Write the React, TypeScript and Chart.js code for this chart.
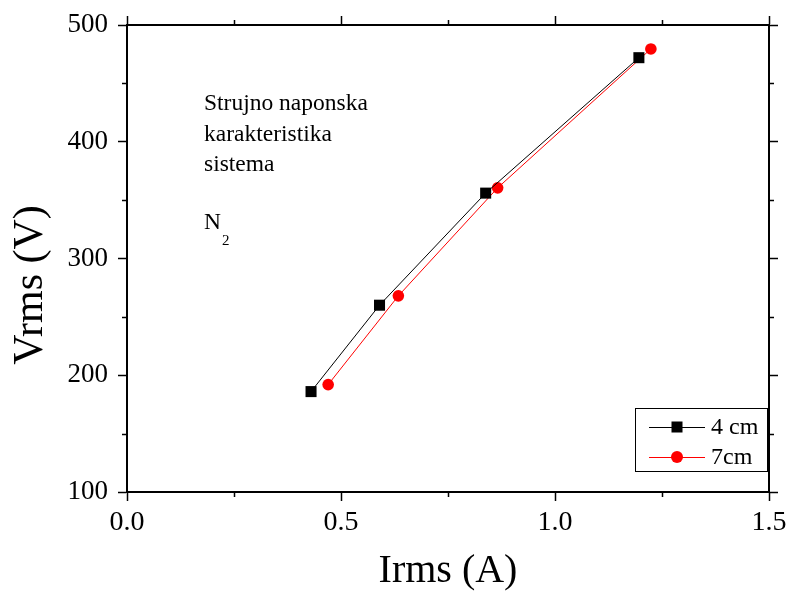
import React, { useEffect, useRef } from 'react';
import { Chart, registerables } from 'chart.js';

Chart.register(...registerables);

// ---- data ----
const xTickValues = [0, 0.5, 1.0, 1.5];
const yTickValues = [100, 200, 300, 400, 500];
const xMinorTicks = [0.25, 0.75, 1.25];
const yMinorTicks = [150, 250, 350, 450];

const current4cm = [0.43, 0.59, 0.838, 1.196];
const voltage4cm = [186, 260, 356, 472];
const current7cm = [0.47, 0.634, 0.866, 1.224];
const voltage7cm = [192, 268, 360.5, 479.5];

const seriesLabels = ['4 cm', '7cm'];
const noteLines = ['Strujno naponska', 'karakteristika', 'sistema'];
const gasLabel = 'N';
const gasSub = '2';
const xTitle = 'Irms (A)';
const yTitle = 'Vrms (V)';

const FONT = "'Liberation Serif', 'Times New Roman', serif";

const minorTicksPlugin = {
  id: 'minorTicks',
  afterDraw(chart: any) {
    const { ctx, chartArea } = chart;
    const xs = chart.scales.x;
    const ys = chart.scales.y;
    const len = 5;
    ctx.save();
    ctx.strokeStyle = '#000';
    ctx.lineWidth = 1.5;
    ctx.beginPath();
    xMinorTicks.forEach((v) => {
      const px = Math.round(xs.getPixelForValue(v)) + 0.5;
      ctx.moveTo(px, chartArea.bottom);
      ctx.lineTo(px, chartArea.bottom + len);
      ctx.moveTo(px, chartArea.top);
      ctx.lineTo(px, chartArea.top - len);
    });
    yMinorTicks.forEach((v) => {
      const py = Math.round(ys.getPixelForValue(v)) + 0.5;
      ctx.moveTo(chartArea.left, py);
      ctx.lineTo(chartArea.left - len, py);
      ctx.moveTo(chartArea.right, py);
      ctx.lineTo(chartArea.right + len, py);
    });
    ctx.stroke();
    ctx.restore();
  },
};

const yTitlePlugin = {
  id: 'yTitle',
  afterDraw(chart: any) {
    const { ctx, chartArea } = chart;
    ctx.save();
    ctx.translate(31, chartArea.top + 260);
    ctx.rotate(-Math.PI / 2);
    ctx.fillStyle = '#000';
    ctx.font = `42px ${FONT}`;
    ctx.textAlign = 'center';
    ctx.textBaseline = 'middle';
    ctx.fillText(yTitle, 0, 0);
    ctx.restore();
  },
};

const notesPlugin = {
  id: 'notes',
  afterDraw(chart: any) {
    const { ctx, chartArea } = chart;
    const x0 = chartArea.left + 77;
    const baselines = [85, 116, 146];
    ctx.save();
    ctx.fillStyle = '#000';
    ctx.textAlign = 'left';
    ctx.textBaseline = 'alphabetic';
    ctx.font = `23.5px ${FONT}`;
    noteLines.forEach((line, i) => {
      ctx.fillText(line, x0, chartArea.top + baselines[i]);
    });
    ctx.fillText(gasLabel, x0, chartArea.top + 204);
    const w = ctx.measureText(gasLabel).width;
    ctx.font = `15px ${FONT}`;
    ctx.fillText(gasSub, x0 + w + 1, chartArea.top + 220);
    ctx.restore();
  },
};

const legendBoxPlugin = {
  id: 'legendBox',
  afterDraw(chart: any) {
    const { ctx, chartArea } = chart;
    const right = chartArea.right - 2;
    const bottom = chartArea.bottom - 21;
    const w = 132;
    const h = 63;
    const left = right - w;
    const top = bottom - h;
    ctx.save();
    ctx.strokeStyle = '#000';
    ctx.lineWidth = 1;
    ctx.strokeRect(Math.round(left) + 0.5, Math.round(top) + 0.5, w, h);
    chart.data.datasets.forEach((ds: any, i: number) => {
      const cy = top + 19 + i * 30;
      ctx.strokeStyle = ds.borderColor;
      ctx.lineWidth = 1;
      ctx.beginPath();
      ctx.moveTo(left + 14, Math.round(cy) + 0.5);
      ctx.lineTo(left + 70, Math.round(cy) + 0.5);
      ctx.stroke();
      ctx.fillStyle = ds.pointBackgroundColor;
      const mx = left + 42;
      if (ds.pointStyle === 'rect') {
        ctx.fillRect(mx - 5.5, cy - 5.5, 11, 11);
      } else {
        ctx.beginPath();
        ctx.arc(mx, cy, 6, 0, Math.PI * 2);
        ctx.fill();
      }
      ctx.fillStyle = '#000';
      ctx.font = `24px ${FONT}`;
      ctx.textAlign = 'left';
      ctx.textBaseline = 'alphabetic';
      ctx.fillText(ds.label, left + 76, cy + 7);
    });
    ctx.restore();
  },
};

const axisCommon = {
  grid: {
    drawOnChartArea: false,
    drawTicks: true,
    tickLength: 9,
    tickWidth: 1.5,
    tickColor: '#000',
  },
  border: { color: '#000', width: 2 },
};

const noPad = (s: any) => {
  s.paddingLeft = 0;
  s.paddingRight = 0;
  s.paddingTop = 0;
  s.paddingBottom = 0;
};

export default function App() {
  const canvasRef = useRef<HTMLCanvasElement | null>(null);

  useEffect(() => {
    const canvas = canvasRef.current;
    if (!canvas) return;
    const chart = new Chart(canvas, {
      type: 'scatter',
      data: {
        datasets: [
          {
            label: seriesLabels[0],
            data: current4cm.map((x, i) => ({ x, y: voltage4cm[i] })),
            showLine: true,
            borderColor: '#000000',
            borderWidth: 1,
            pointStyle: 'rect',
            pointRadius: 7.8,
            pointBackgroundColor: '#000000',
            pointBorderWidth: 0,
          },
          {
            label: seriesLabels[1],
            data: current7cm.map((x, i) => ({ x, y: voltage7cm[i] })),
            showLine: true,
            borderColor: '#ff0000',
            borderWidth: 1,
            pointStyle: 'circle',
            pointRadius: 5.8,
            pointBackgroundColor: '#ff0000',
            pointBorderWidth: 0,
          },
        ],
      },
      options: {
        responsive: false,
        animation: false,
        devicePixelRatio: 1,
        layout: { padding: 0 },
        plugins: {
          legend: { display: false },
          tooltip: { enabled: false },
        },
        scales: {
          x: {
            type: 'linear',
            position: 'bottom',
            min: 0,
            max: 1.5,
            afterBuildTicks: (s: any) => {
              s.ticks = xTickValues.map((v) => ({ value: v }));
            },
            afterFit: (s: any) => {
              s.height = 105;
              noPad(s);
            },
            ticks: {
              callback: (v: any) => Number(v).toFixed(1),
              font: { family: FONT, size: 28 },
              color: '#000',
              padding: 5,
              maxRotation: 0,
            },
            title: {
              display: true,
              text: xTitle,
              font: { family: FONT, size: 40 },
              color: '#000',
              padding: { top: 0, bottom: 2 },
            },
            ...axisCommon,
          },
          x2: {
            type: 'linear',
            position: 'top',
            min: 0,
            max: 1.5,
            afterBuildTicks: (s: any) => {
              s.ticks = xTickValues.map((v) => ({ value: v }));
            },
            afterFit: (s: any) => {
              s.height = 25;
              noPad(s);
            },
            ticks: { display: false },
            ...axisCommon,
          },
          y: {
            type: 'linear',
            position: 'left',
            min: 100,
            max: 500,
            afterBuildTicks: (s: any) => {
              s.ticks = yTickValues.map((v) => ({ value: v }));
            },
            afterFit: (s: any) => {
              s.width = 127;
              noPad(s);
            },
            ticks: {
              callback: (v: any) => String(v),
              font: { family: FONT, size: 27 },
              color: '#000',
              padding: 10,
            },
            title: { display: false },
            ...axisCommon,
          },
          y2: {
            type: 'linear',
            position: 'right',
            min: 100,
            max: 500,
            afterBuildTicks: (s: any) => {
              s.ticks = yTickValues.map((v) => ({ value: v }));
            },
            afterFit: (s: any) => {
              s.width = 20;
              noPad(s);
            },
            ticks: { display: false },
            ...axisCommon,
          },
        },
      },
      plugins: [minorTicksPlugin, yTitlePlugin, notesPlugin, legendBoxPlugin],
    } as any);
    return () => chart.destroy();
  }, []);

  return (
    <div style={{ position: 'absolute', left: 0, top: 0, width: 789, height: 597, background: '#fff' }}>
      <canvas ref={canvasRef} width={789} height={597} style={{ display: 'block' }} />
    </div>
  );
}
